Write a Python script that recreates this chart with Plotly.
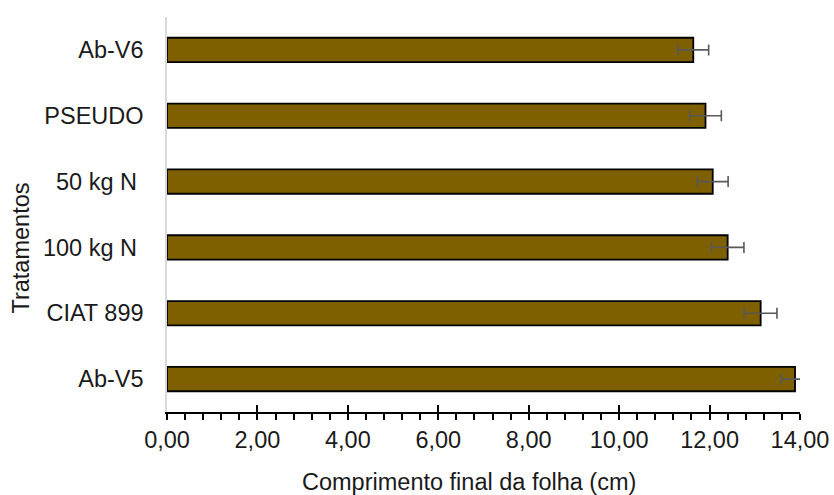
import plotly.graph_objects as go

# bottom-to-top order (as drawn)
categories = ["Ab-V5", "CIAT 899", "100 kg N\u00a0", "50 kg N\u00a0", "PSEUDO", "Ab-V6"]
values = [13.89, 13.13, 12.40, 12.07, 11.91, 11.64]
errors = [0.31, 0.36, 0.36, 0.34, 0.35, 0.34]
x_ticks = [0, 2, 4, 6, 8, 10, 12, 14]
x_title = "Comprimento final da folha (cm)"
y_title = "Tratamentos"

FONT = "Liberation Sans, Arial, sans-serif"
FS = 23.5
TXT = "#1a1a1a"

fig = go.Figure()
fig.add_trace(go.Bar(
    y=categories, x=values, orientation="h",
    marker=dict(color="#7F6000", line=dict(color="#000000", width=1.8)),
    error_x=dict(type="data", array=errors, visible=True,
                 color="#595959", thickness=1.6, width=5.5),
    showlegend=False,
))
# invisible trace on overlay axis to draw the inside half of major ticks
fig.add_trace(go.Scatter(x=[0, 14], y=[None, None], xaxis="x2", yaxis="y",
                         showlegend=False, hoverinfo="skip"))

fig.update_layout(
    width=834, height=495,
    margin=dict(l=167, r=34, t=17, b=83, autoexpand=False),
    paper_bgcolor="white", plot_bgcolor="white",
    separators=",.",
    bargap=0.63,
    font=dict(family=FONT, size=FS, color=TXT),
    xaxis=dict(
        range=[0, 14], tickvals=x_ticks, tickformat=".2f",
        showgrid=False, zeroline=False, automargin=False,
        showline=True, linecolor="#000000", linewidth=1.5,
        ticks="outside", ticklen=6, tickwidth=1.5, tickcolor="#000000",
        minor=dict(dtick=0.4, ticks="outside", ticklen=6, tickwidth=1.5,
                   tickcolor="#000000", showgrid=False),
        tickfont=dict(size=FS, color=TXT),
        ticklabelstandoff=0,
    ),
    xaxis2=dict(
        range=[0, 14], tickvals=x_ticks, overlaying="x", side="bottom",
        showticklabels=False, showgrid=False, zeroline=False, showline=False,
        ticks="inside", ticklen=7, tickwidth=1.5, tickcolor="#000000",
        anchor="y", automargin=False,
    ),
    yaxis=dict(
        type="category", categoryorder="array", categoryarray=categories,
        showgrid=False, zeroline=False, automargin=False,
        showline=True, linecolor="#D9D9D9", linewidth=1.5,
        ticks="", ticklabelstandoff=17,
        tickfont=dict(size=FS, color=TXT),
    ),
    annotations=[
        dict(text=x_title, xref="paper", yref="paper", x=0.477, y=-0.178,
             xanchor="center", yanchor="middle", showarrow=False,
             font=dict(size=FS, color=TXT)),
        dict(text=y_title, xref="paper", yref="paper", x=-0.2305, y=0.414,
             xanchor="center", yanchor="middle", textangle=-90, showarrow=False,
             font=dict(size=FS, color=TXT)),
    ],
)

fig.write_html("out.html",
               config={"displayModeBar": False},
               post_script="document.body.style.margin='0';document.body.style.overflow='hidden';")
